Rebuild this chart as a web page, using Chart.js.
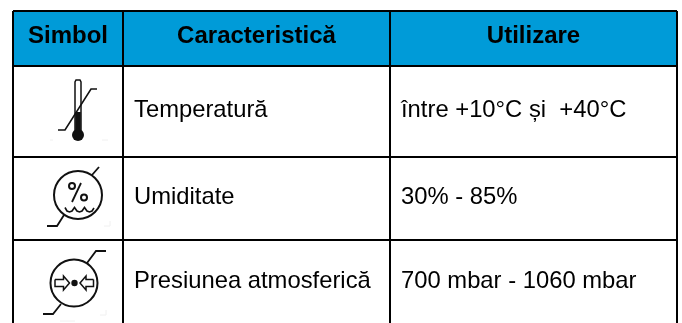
<!DOCTYPE html>
<html lang="ro">
<head>
    <meta charset="UTF-8">
    <title>Simbol / Caracteristică / Utilizare</title>
    <script src="https://cdn.jsdelivr.net/npm/chart.js"></script>
    <style>
        html, body { margin: 0; padding: 0; background: #fff; }
        canvas { display: block; }
    </style>
</head>
<body>
    <canvas id="tableChart" width="682" height="323"></canvas>

    <script>
        // Table text
        const headers = ['Simbol', 'Caracteristică', 'Utilizare'];
        const features = ['Temperatură', 'Umiditate', 'Presiunea atmosferică'];
        const usage = ['între +10°C și  +40°C', '30% - 85%', '700 mbar - 1060 mbar'];

        // Table rules, the last row runs off the bottom of the picture
        const columnEdges = [13, 123, 390, 677];
        const rowEdges = [11, 66, 157, 240, 326];

        // Symbol strokes
        const thermoTube = [[75, 132], [75, 82], [76, 80], [80, 80], [81, 82], [81, 132]];
        const thermoLevel = [[78, 112], [78, 134]];
        const thermoRange = [[58, 130], [65, 130], [91, 89], [97, 89]];
        const humidRangeLow = [[47, 226], [57, 226], [64, 215]];
        const humidRangeHigh = [[92, 175], [99, 167]];
        const humidSlash = [[81, 183], [72, 202]];
        const humidWave = [[65, 207.5], [67, 211], [69.5, 212], [72, 211], [74.5, 207.5], [77, 211], [79.5, 212], [82, 211], [84.5, 207.5], [87, 211], [89.5, 212], [92, 211], [94, 208]];
        const pressRangeLow = [[43, 314], [53, 314], [61, 304]];
        const pressRangeHigh = [[87, 263], [96, 251], [106, 251]];
        const pressArrowLeft = [[55, 279.5], [63.5, 279.5], [63.5, 276], [69.5, 283], [63.5, 290], [63.5, 286.5], [55, 286.5], [55, 279.5]];
        const pressArrowRight = [[93.5, 279.5], [86, 279.5], [86, 276], [80, 283], [86, 290], [86, 286.5], [93.5, 286.5], [93.5, 279.5]];
        const cornerMarks = [
            [[104, 226], [110, 226], [110, 221]],
            [[100, 315], [106, 315], [106, 310]],
            [[102, 140], [108, 140]],
            [[50, 140], [53, 140]],
            [[60, 321], [75, 321]]
        ];

        // Round parts of the symbols: x, y, radius
        const outlineCircles = [[78, 195, 24], [74, 283, 23.5], [72, 186, 3], [84, 197.5, 3]];
        const solidCircles = [[78, 135, 6], [74.5, 283, 3.2]];

        const HEADER_BLUE = '#009bd8';
        const INK = '#111111';

        function toPoints(list) {
            return list.map(p => ({ x: p[0], y: p[1] }));
        }

        function stroke(list, width, color) {
            return {
                data: toPoints(list),
                showLine: true,
                borderColor: color || INK,
                borderWidth: width,
                pointRadius: 0,
                fill: false
            };
        }

        function circle(c, filled) {
            return {
                data: [{ x: c[0], y: c[1] }],
                pointRadius: c[2],
                pointBorderWidth: filled ? 0 : 2,
                pointBorderColor: INK,
                pointBackgroundColor: filled ? INK : 'rgba(0,0,0,0)',
                showLine: false
            };
        }

        let datasets = [
            // Header band, filled down to the first row rule
            {
                data: [{ x: columnEdges[0], y: rowEdges[0] }, { x: columnEdges[3], y: rowEdges[0] }],
                showLine: true,
                borderWidth: 0,
                pointRadius: 0,
                backgroundColor: HEADER_BLUE,
                fill: { value: rowEdges[1] }
            },
            stroke(thermoTube, 1.5),
            stroke(thermoLevel, 5.5),
            stroke(thermoRange, 1.6),
            stroke(humidRangeLow, 1.8),
            stroke(humidRangeHigh, 1.8),
            stroke(humidSlash, 1.8),
            stroke(humidWave, 1.6),
            stroke(pressRangeLow, 1.8),
            stroke(pressRangeHigh, 1.8),
            stroke(pressArrowLeft, 1.5),
            stroke(pressArrowRight, 1.5)
        ];
        cornerMarks.forEach(m => datasets.push(stroke(m, 1, '#f0f0f0')));
        outlineCircles.forEach(c => datasets.push(circle(c, false)));
        solidCircles.forEach(c => datasets.push(circle(c, true)));

        // Writes the cell text at positions taken from the scales
        const cellText = {
            id: 'cellText',
            afterDraw(chart) {
                const ctx = chart.ctx;
                const x = chart.scales.x;
                const y = chart.scales.y;
                ctx.save();
                ctx.fillStyle = '#000';
                ctx.textBaseline = 'alphabetic';

                ctx.font = 'bold 24px "Liberation Sans", Arial, sans-serif';
                ctx.textAlign = 'center';
                headers.forEach((text, i) => {
                    let mid = (x.getPixelForValue(columnEdges[i]) + x.getPixelForValue(columnEdges[i + 1])) / 2;
                    let base = (y.getPixelForValue(rowEdges[0]) + y.getPixelForValue(rowEdges[1])) / 2 + 4.5;
                    ctx.fillText(text, mid, base);
                });

                ctx.font = '23.8px "Liberation Sans", Arial, sans-serif';
                ctx.textAlign = 'left';
                features.forEach((text, i) => {
                    let base = (y.getPixelForValue(rowEdges[i + 1]) + y.getPixelForValue(rowEdges[i + 2])) / 2 + 5;
                    ctx.fillText(text, x.getPixelForValue(columnEdges[1]) + 11, base);
                    ctx.fillText(usage[i], x.getPixelForValue(columnEdges[2]) + 11, base);
                });
                ctx.restore();
            }
        };

        function ruleAxis(edges, min, max, reverse) {
            return {
                type: 'linear',
                min: min,
                max: max,
                reverse: reverse,
                afterBuildTicks: scale => {
                    scale.ticks = edges.map(v => ({ value: v }));
                },
                ticks: { display: false },
                border: { display: false },
                grid: { color: '#000', lineWidth: 2, drawTicks: false, z: 1 }
            };
        }

        new Chart(document.getElementById('tableChart').getContext('2d'), {
            type: 'scatter',
            data: { datasets: datasets },
            plugins: [cellText],
            options: {
                responsive: false,
                animation: false,
                layout: { autoPadding: false, padding: { left: 13, right: 5, top: 11, bottom: 0 } },
                plugins: {
                    legend: { display: false },
                    title: { display: false },
                    tooltip: { enabled: false }
                },
                scales: {
                    x: ruleAxis(columnEdges, 13, 677, false),
                    y: ruleAxis(rowEdges, 11, 323, true)
                }
            }
        });
    </script>
</body>
</html>
